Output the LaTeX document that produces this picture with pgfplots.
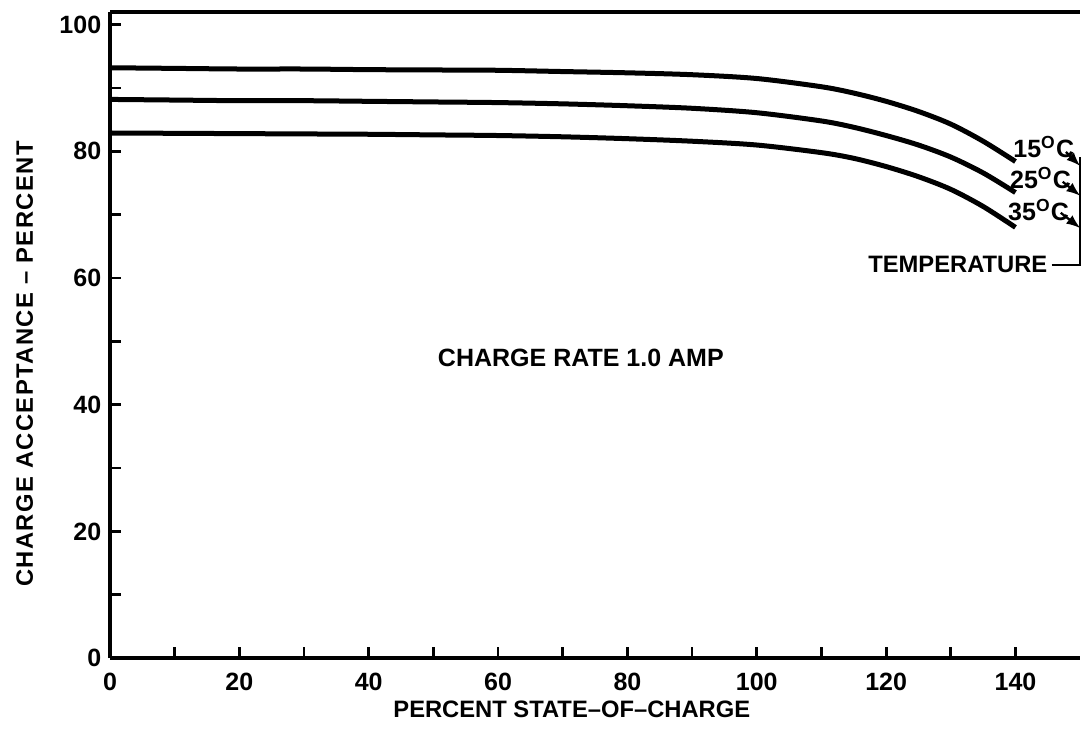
\documentclass[border=0pt]{standalone}
\usepackage{fontspec}
\setmainfont{Liberation Sans}
\newfontfamily\spaced[LetterSpace=6]{Liberation Sans}
\usepackage{pgfplots}
\pgfplotsset{compat=1.18}

\newcommand{\lblfont}{\fontsize{9.5}{11}\selectfont\bfseries}

\begin{document}
\begin{tikzpicture}
\begin{axis}[
    scale only axis,
    width=388pt, height=258.4pt,
    xmin=0, xmax=150,
    ymin=0, ymax=102,
    axis x line=box,
    axis y line=left,
    axis line style={-, line width=1.4pt},
    xtick pos=bottom,
    xtick={0,20,...,140},
    minor xtick={10,30,...,130},
    ytick={0,20,...,100},
    minor ytick={10,30,...,90},
    tick align=inside,
    major tick length=4.5pt,
    minor tick length=4.5pt,
    every tick/.style={black, line width=1.1pt},
    /pgf/number format/assume math mode=true,
    tick label style={font=\fontsize{10}{12}\selectfont\bfseries},
    xticklabel style={yshift=-2.4pt},
    xlabel={PERCENT STATE--OF--CHARGE},
    xlabel style={font=\lblfont, at={(rel axis cs:0.476,-0.080)}, anchor=center},
    ylabel={\spaced CHARGE ACCEPTANCE \textendash{} PERCENT},
    ylabel style={font=\lblfont, at={(rel axis cs:-0.088,0.455)}, anchor=center, rotate=0},
    clip=false,
]

% 15 C
\addplot[black, line width=2pt, smooth] coordinates {
    (0,93.2) (10,93.1) (20,93.0) (30,93.0) (40,92.9) (50,92.85) (60,92.8)
    (70,92.6) (80,92.4) (90,92.1) (100,91.5) (110,90.2) (115,89.2)
    (120,87.9) (125,86.3) (130,84.3) (135,81.6) (140,78.4)
};
% 25 C
\addplot[black, line width=2pt, smooth] coordinates {
    (0,88.2) (10,88.1) (20,88.0) (30,88.0) (40,87.9) (50,87.8) (60,87.7)
    (70,87.5) (80,87.2) (90,86.8) (100,86.1) (110,84.8) (115,83.8)
    (120,82.5) (125,81.0) (130,79.1) (135,76.6) (140,73.5)
};
% 35 C
\addplot[black, line width=2pt, smooth] coordinates {
    (0,82.9) (10,82.85) (20,82.8) (30,82.75) (40,82.7) (50,82.6) (60,82.5)
    (70,82.3) (80,82.0) (90,81.6) (100,81.0) (110,79.8) (115,78.9)
    (120,77.6) (125,76.0) (130,74.0) (135,71.3) (140,68.0)
};

\node[font=\fontsize{10}{12}\selectfont\bfseries, anchor=center] at (axis cs:72.8,47.4) {CHARGE RATE 1.0 AMP};

\node[font=\fontsize{10}{12}\selectfont\bfseries, anchor=west, inner sep=0pt] at (axis cs:139.6,80.7) {15\textsuperscript{O}C};
\node[font=\fontsize{10}{12}\selectfont\bfseries, anchor=west, inner sep=0pt] at (axis cs:139.1,75.8) {25\textsuperscript{O}C};
\node[font=\fontsize{10}{12}\selectfont\bfseries, anchor=west, inner sep=0pt] at (axis cs:138.8,70.8) {35\textsuperscript{O}C};
\node[font=\lblfont, anchor=east, inner sep=0pt] at (axis cs:145.0,62.2) {TEMPERATURE};

\draw[line width=0.9pt] (axis cs:145.6,62.1) -- (axis cs:150,62.1) -- (axis cs:150,79.1);
\draw[line width=0.9pt, -latex] (axis cs:147.8,79.9) -- (axis cs:150,77.7);
\draw[line width=0.9pt, -latex] (axis cs:147.3,75.2) -- (axis cs:150,73.0);
\draw[line width=0.9pt, -latex] (axis cs:147.0,70.3) -- (axis cs:150,67.9);

\path (rel axis cs:-0.1134,-0.1146) rectangle (rel axis cs:1.005,1.0186);
\end{axis}
\end{tikzpicture}
\end{document}
